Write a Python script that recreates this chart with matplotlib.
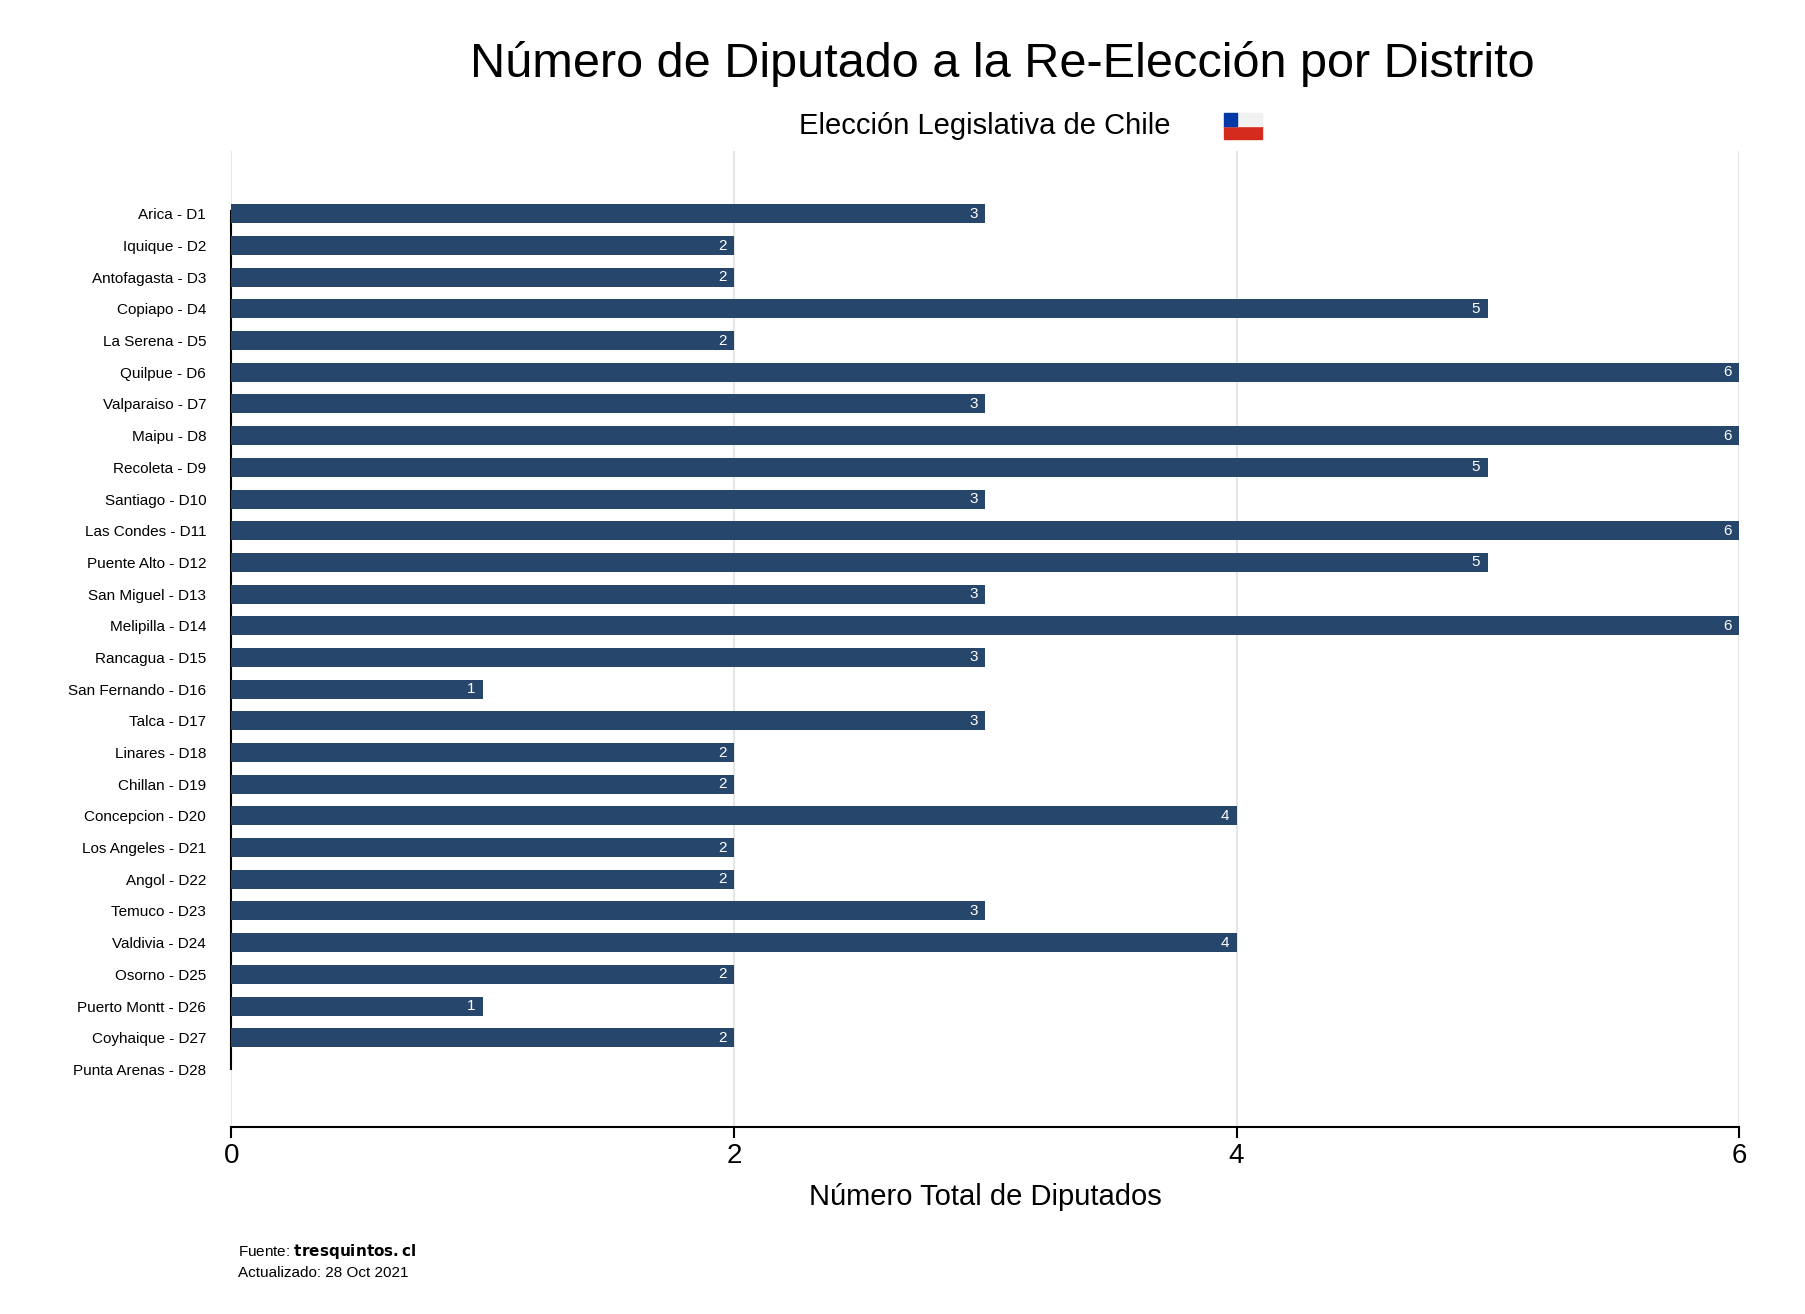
import matplotlib.pyplot as plt
from matplotlib.patches import Rectangle, Polygon

plt.rcParams['font.family'] = ['Liberation Sans', 'DejaVu Sans']

distritos = ["Arica - D1", "Iquique - D2", "Antofagasta - D3", "Copiapo - D4", "La Serena - D5",
             "Quilpue - D6", "Valparaiso - D7", "Maipu - D8", "Recoleta - D9", "Santiago - D10",
             "Las Condes - D11", "Puente Alto - D12", "San Miguel - D13", "Melipilla - D14",
             "Rancagua - D15", "San Fernando - D16", "Talca - D17", "Linares - D18",
             "Chillan - D19", "Concepcion - D20", "Los Angeles - D21", "Angol - D22",
             "Temuco - D23", "Valdivia - D24", "Osorno - D25", "Puerto Montt - D26",
             "Coyhaique - D27", "Punta Arenas - D28"]
diputados = [3, 2, 2, 5, 2, 6, 3, 6, 5, 3, 6, 5, 3, 6, 3, 1, 3, 2, 2, 4, 2, 2, 3, 4, 2, 1, 2, 0]

color = "#26466b"
fig = plt.figure(figsize=(18.06, 13.14), dpi=100)
ax = fig.add_axes([0.128, 0.142, 0.835, 0.743])

y = list(range(len(distritos)))
ax.barh(y, diputados, height=0.6, color=color, zorder=3)
for yi, v in zip(y, diputados):
    if v > 0:
        ax.text(v - 0.03, yi, str(v), color="white", ha="right", va="center",
                fontsize=11, zorder=4)

ax.set_yticks(y)
ax.set_yticklabels(distritos, fontsize=11)
ax.set_ylim(28.83, -1.98)
ax.set_xlim(0, 6)
ax.set_xticks([0, 2, 4, 6])
ax.tick_params(axis='x', labelsize=20, length=8, width=1.5, direction='out')
ax.tick_params(axis='y', length=0, pad=18)
ax.grid(axis='x', color="#e6e6e6", linewidth=1.5, zorder=0)
for s in ["top", "right"]:
    ax.spines[s].set_visible(False)
ax.spines["left"].set_bounds(-0.1, 27)
ax.spines["left"].set_linewidth(1.5)
ax.spines["bottom"].set_linewidth(1.5)
ax.set_xlabel("Número Total de Diputados", fontsize=21, labelpad=10)

fig.text(0.555, 0.951, "Número de Diputado a la Re-Elección por Distrito",
         ha="center", va="center", fontsize=35)
fig.text(0.545, 0.904, "Elección Legislativa de Chile", ha="center", va="center", fontsize=21)

# small Chilean flag next to subtitle
fx, fy, fw, fh = 0.678, 0.894, 0.021, 0.02
fig.patches.append(Rectangle((fx, fy), fw, fh / 2, color="#d52b1e", transform=fig.transFigure))
fig.patches.append(Rectangle((fx, fy + fh / 2), fw, fh / 2, color="#f2f2f2", transform=fig.transFigure))
fig.patches.append(Rectangle((fx, fy + fh / 2), fw / 3, fh / 2, color="#0039a6", transform=fig.transFigure))

fig.text(0.132, 0.040, "Fuente: $\\bf{tresquintos.cl}$", fontsize=11, va="bottom")
fig.text(0.132, 0.026, "Actualizado: 28 Oct 2021", fontsize=11, va="bottom")

fig.savefig("out.png", dpi=100, facecolor="white")
